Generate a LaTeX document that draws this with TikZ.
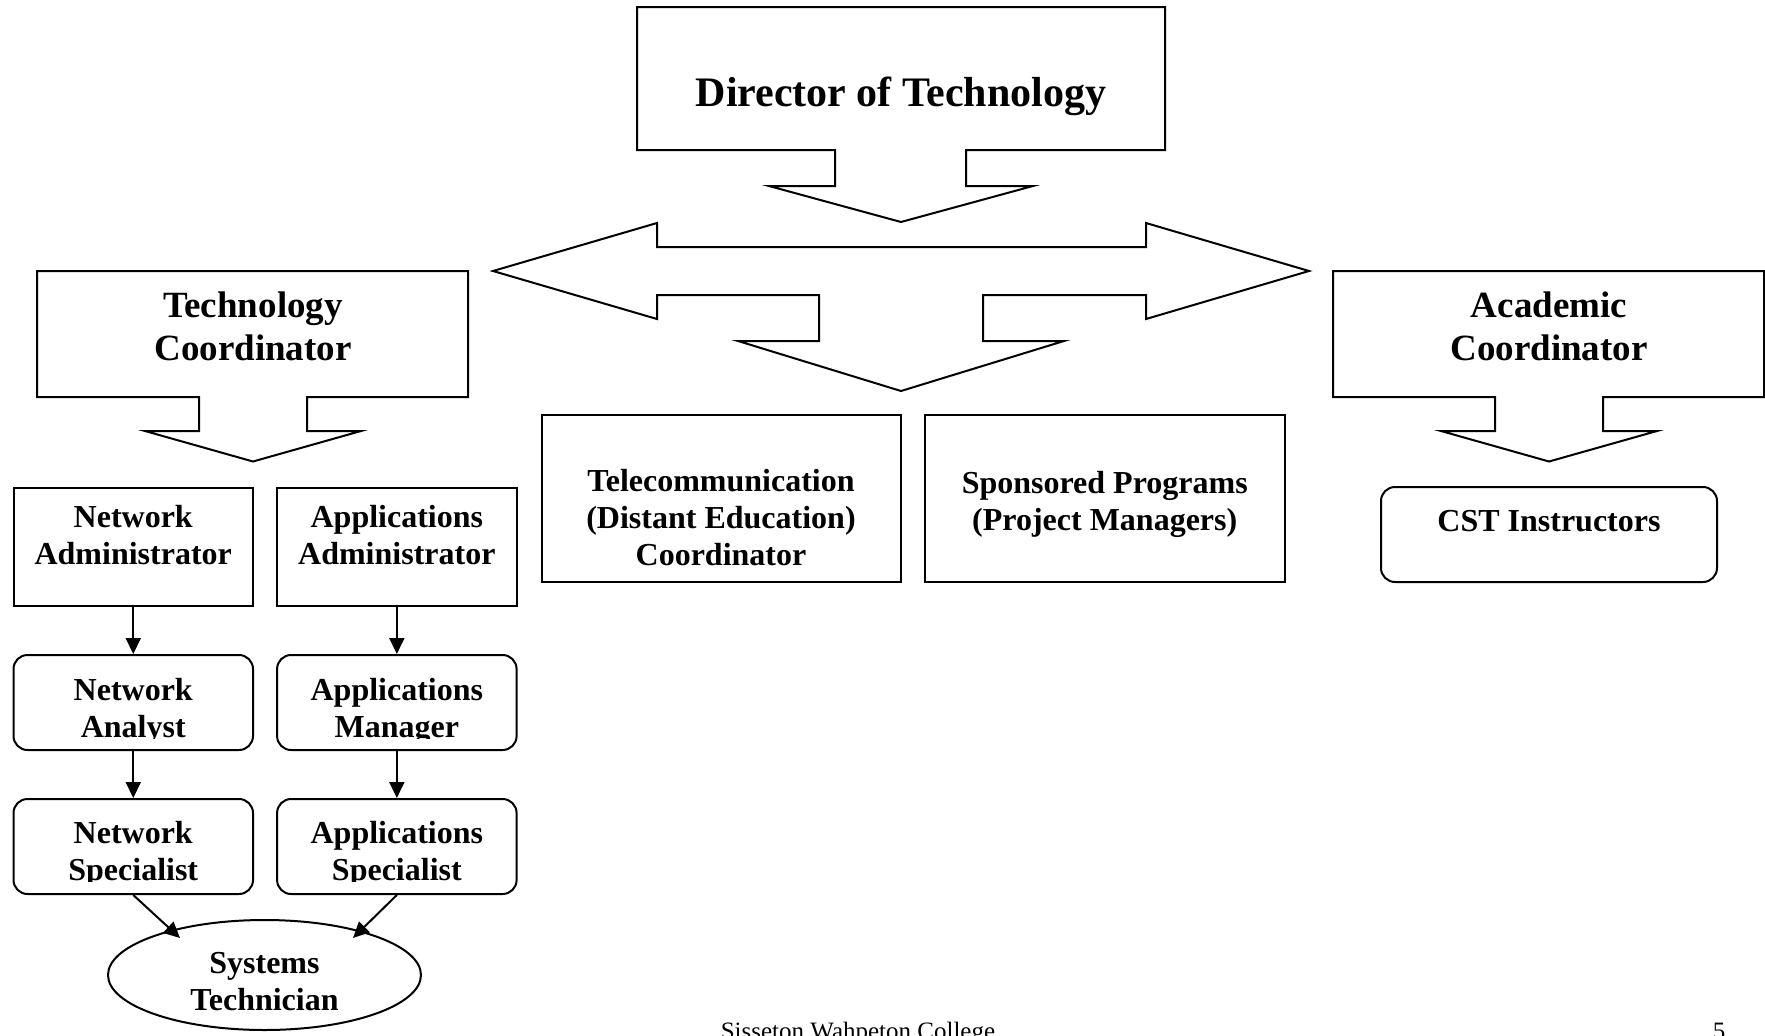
\documentclass[tikz,border=0pt]{standalone}
\usepackage{fontspec}
\setmainfont{Liberation Serif}
\usetikzlibrary{arrows.meta, shapes.geometric}
\newcommand\textrows[1]{\begin{tabular}[b]{@{}c@{}}#1\end{tabular}}

\begin{document}
\begin{tikzpicture}[x=1pt, y=-1pt, line width=2pt,
    frame/.style={draw, rectangle, inner sep=0pt},
    softframe/.style={frame, rounded corners=14pt},
    txt/.style={anchor=base, inner sep=0pt, font=\fontsize{32}{37}\selectfont\bfseries},
    bigtxt/.style={txt, font=\fontsize{37}{43}\selectfont\bfseries},
    link/.style={-{Triangle[length=16pt, width=15pt]}}]
    \useasboundingbox (0,0) rectangle (1765,1036);

    % director callout
    \draw (637,7) -- (1165,7) -- (1165,150) -- (966,150) -- (966,186) -- (1033,186)
        -- (901,222) -- (769,186) -- (835,186) -- (835,150) -- (637,150) -- cycle;
    \node[txt, font=\fontsize{42}{48}\selectfont\bfseries] (director) at (901,106) {Director of Technology};

    % left-right-down arrow
    \draw (493,271) -- (657,223) -- (657,247) -- (1146,247) -- (1146,223) -- (1309,271)
        -- (1146,319) -- (1146,295) -- (983,295) -- (983,341) -- (1064,341) -- (901,391)
        -- (738,341) -- (819,341) -- (819,295) -- (657,295) -- (657,319) -- cycle;

    % coordinators
    \draw (37,271) -- (468,271) -- (468,397) -- (307,397) -- (307,431) -- (361,431)
        -- (253,461.5) -- (145,431) -- (199,431) -- (199,397) -- (37,397) -- cycle;
    \node[bigtxt] (techcoord) at (253,360) {\textrows{Technology\\Coordinator}};
    \draw (1333,271) -- (1764,271) -- (1764,397) -- (1603,397) -- (1603,431) -- (1657,431)
        -- (1549,461.5) -- (1441,431) -- (1495,431) -- (1495,397) -- (1333,397) -- cycle;
    \node[bigtxt] (acadcoord) at (1549,360) {\textrows{Academic\\Coordinator}};

    % middle row
    \node[frame, minimum width=359pt, minimum height=167pt] (telecom) at (721,498.5) {};
    \node[txt] (telecom-t) at (721,565) {\textrows{Telecommunication\\(Distant Education)\\Coordinator}};
    \node[frame, minimum width=359.5pt, minimum height=167pt] (sponsored) at (1104.75,498.5) {};
    \node[txt] (sponsored-t) at (1104.75,530) {\textrows{Sponsored Programs\\(Project Managers)}};
    \node[softframe, minimum width=336pt, minimum height=95pt] (cst) at (1549,534.5) {};
    \node[txt] (cst-t) at (1549,531) {CST Instructors};

    % technology staff
    \node[frame, minimum width=239.5pt, minimum height=118pt] (netadmin) at (133.25,546.5) {};
    \node[txt] (netadmin-t) at (133.25,564) {\textrows{Network\\Administrator}};
    \node[frame, minimum width=239.5pt, minimum height=118pt] (appadmin) at (396.85,546.5) {};
    \node[txt] (appadmin-t) at (396.85,564) {\textrows{Applications\\Administrator}};
    \node[softframe, minimum width=239.5pt, minimum height=95pt] (netanalyst) at (133.25,702.5) {};
    \node[softframe, minimum width=239.5pt, minimum height=95pt] (appmanager) at (396.85,702.5) {};
    \node[softframe, minimum width=239.5pt, minimum height=95pt] (netspec) at (133.25,846.5) {};
    \node[softframe, minimum width=239.5pt, minimum height=95pt] (appspec) at (396.85,846.5) {};
    \begin{scope}
        \clip (13,655) rectangle (517,738);
        \node[txt] (netanalyst-t) at (133.25,737) {\textrows{Network\\Analyst}};
        \node[txt] (appmanager-t) at (396.85,737) {\textrows{Applications\\Manager}};
    \end{scope}
    \begin{scope}
        \clip (13,799) rectangle (517,881);
        \node[txt] (netspec-t) at (133.25,880) {\textrows{Network\\Specialist}};
        \node[txt] (appspec-t) at (396.85,880) {\textrows{Applications\\Specialist}};
    \end{scope}
    \node[draw, ellipse, minimum width=313pt, minimum height=110pt, inner sep=0pt] (systech) at (264.5,975) {};
    \node[txt] (systech-t) at (264.5,1010) {\textrows{Systems\\Technician}};
    \coordinate (nettip) at (180,938);
    \coordinate (apptip) at (353,938);

    \draw[link] (netadmin) -- (netanalyst);
    \draw[link] (netanalyst) -- (netspec);
    \draw[link] (appadmin) -- (appmanager);
    \draw[link] (appmanager) -- (appspec);
    \draw[link] (netspec.south) -- (nettip);
    \draw[link] (appspec.south) -- (apptip);

    % footer
    \node[anchor=base, font=\fontsize{25}{30}\selectfont] (college) at (858,1039) {Sisseton Wahpeton College};
    \node[anchor=base, font=\fontsize{25}{30}\selectfont] (pagenum) at (1719,1039) {5};
\end{tikzpicture}
\end{document}
